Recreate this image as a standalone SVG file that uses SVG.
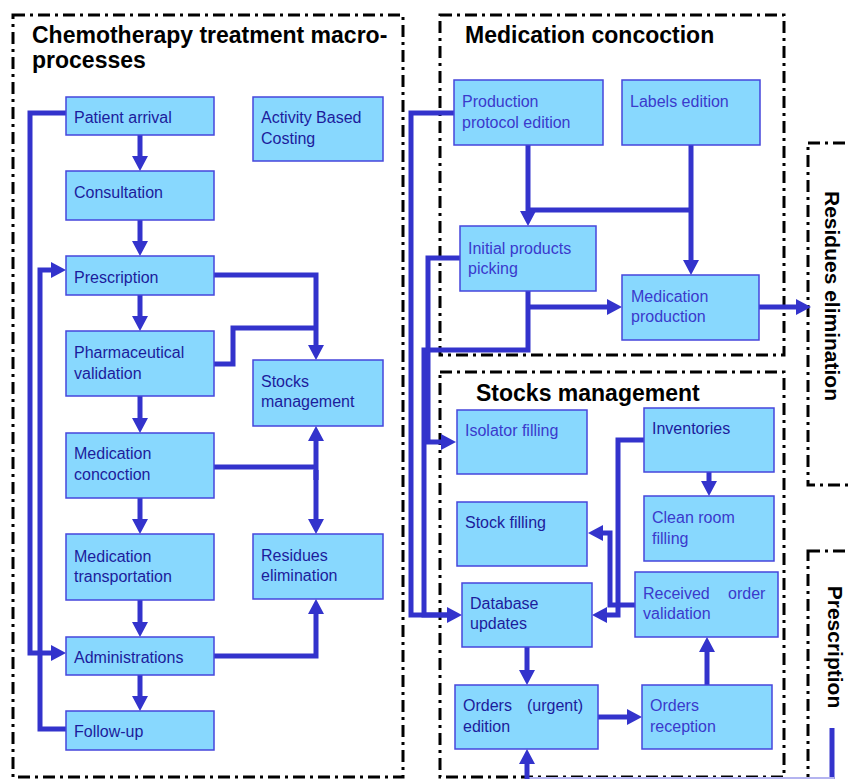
<svg xmlns="http://www.w3.org/2000/svg" width="849" height="779" viewBox="0 0 849 779">
<style>
.frame{fill:none;stroke:#000;stroke-width:3;stroke-dasharray:12 5 3 5}
.box{fill:#88d8fe;stroke:#4646dc;stroke-width:1.5}
.t{font-family:"Liberation Sans",Arial,sans-serif;font-size:16px;fill:#1c1c9c}
.tl{font-family:"Liberation Sans",Arial,sans-serif;font-size:16px;fill:#3a3acc}
.title{font-family:"Liberation Sans",Arial,sans-serif;font-size:23px;font-weight:bold;fill:#000}
.vt{font-family:"Liberation Sans",Arial,sans-serif;font-size:21px;font-weight:bold;fill:#000}
.c{fill:none;stroke:#3333cc;stroke-width:5;stroke-linejoin:miter}
.a{marker-end:url(#ah)}
</style>
<defs>
<marker id="ah" markerUnits="userSpaceOnUse" markerWidth="16" markerHeight="16" refX="3" refY="8" orient="auto">
<path d="M0,0 L15,8 L0,16 Z" fill="#3333cc"/>
</marker>
</defs>

<g id="frames">
<rect class="frame" x="13" y="15" width="390" height="762"/>
<rect class="frame" x="440" y="15" width="344" height="340"/>
<rect class="frame" x="440" y="372" width="344" height="405"/>
<rect class="frame" x="808" y="143" width="70" height="342"/>
<rect class="frame" x="808" y="551" width="70" height="260"/>
<text class="title" x="32" y="43">Chemotherapy treatment macro-</text>
<text class="title" x="32" y="68">processes</text>
<text class="title" x="465" y="43">Medication concoction</text>
<text class="title" x="476" y="401">Stocks management</text>
<text class="vt" transform="translate(825,296) rotate(90)" text-anchor="middle">Residues elimination</text>
<text class="vt" transform="translate(828,647) rotate(90)" text-anchor="middle">Prescription</text>
</g>

<g id="connectors">
<path class="c a" d="M140,135 V159"/>
<path class="c a" d="M140,220 V244"/>
<path class="c a" d="M140,295 V319"/>
<path class="c a" d="M140,396 V421"/>
<path class="c a" d="M140,498 V522"/>
<path class="c a" d="M140,600 V625"/>
<path class="c a" d="M140,675 V699"/>
<path class="c a" d="M66,113 H30 V653 H54"/>
<path class="c a" d="M66,729 H40 V270 H54"/>
<path class="c a" d="M214,275 H316 V348"/>
<path class="c" d="M214,364 H233 V328 H316"/>
<path class="c" d="M214,467 H316"/>
<path class="c a" d="M316,480 V438"/>
<path class="c a" d="M316,470 V522"/>
<path class="c a" d="M214,656 H316 V611"/>
<path class="c a" d="M454,113 H411 V615 H450"/>
<path class="c a" d="M460,258 H428 V442 H444"/>
<path class="c" d="M528,291 V350 H424 V615 H450"/>
<path class="c a" d="M528,307 H610"/>
<path class="c a" d="M528,145 V214"/>
<path class="c a" d="M691,145 V263"/>
<path class="c" d="M528,210 H691"/>
<path class="c a" d="M759,307 H799"/>
<path class="c a" d="M709,472 V484"/>
<path class="c a" d="M644,440 H618 V615 H604"/>
<path class="c a" d="M635,605 H610 V533 H600"/>
<path class="c a" d="M527,647 V673"/>
<path class="c a" d="M598,717 H630"/>
<path class="c a" d="M707,685 V649"/>
<path class="c" d="M832,728 V779"/>
<path d="M527,778 H834" fill="none" stroke="#b4b4f0" stroke-width="2"/>
<path class="c a" d="M527,779 V761"/>
</g>

<g id="patient-arrival"><rect class="box" x="66" y="97" width="148" height="38"/><text class="t" x="74" y="123">Patient arrival</text></g>
<g id="consultation"><rect class="box" x="66" y="171" width="148" height="49"/><text class="t" x="74" y="198">Consultation</text></g>
<g id="prescription"><rect class="box" x="66" y="256" width="148" height="39"/><text class="t" x="74" y="283">Prescription</text></g>
<g id="pharmaceutical-validation"><rect class="box" x="66" y="331" width="148" height="65"/><text class="t" x="74" y="358">Pharmaceutical</text><text class="t" x="74" y="379">validation</text></g>
<g id="medication-concoction"><rect class="box" x="66" y="433" width="148" height="65"/><text class="t" x="74" y="459">Medication</text><text class="t" x="74" y="480">concoction</text></g>
<g id="medication-transportation"><rect class="box" x="66" y="534" width="148" height="66"/><text class="t" x="74" y="562">Medication</text><text class="t" x="74" y="582">transportation</text></g>
<g id="administrations"><rect class="box" x="66" y="637" width="148" height="38"/><text class="t" x="74" y="663">Administrations</text></g>
<g id="follow-up"><rect class="box" x="66" y="711" width="148" height="39"/><text class="t" x="74" y="737">Follow-up</text></g>
<g id="activity-based-costing"><rect class="box" x="253" y="97" width="130" height="64"/><text class="t" x="261" y="123">Activity Based</text><text class="t" x="261" y="144">Costing</text></g>
<g id="stocks-management"><rect class="box" x="253" y="360" width="130" height="66"/><text class="t" x="261" y="387">Stocks</text><text class="t" x="261" y="407">management</text></g>
<g id="residues-elimination"><rect class="box" x="253" y="534" width="130" height="65"/><text class="t" x="261" y="561">Residues</text><text class="t" x="261" y="581">elimination</text></g>

<g id="production-protocol-edition"><rect class="box" x="454" y="80" width="149" height="65"/><text class="tl" x="462" y="107">Production</text><text class="tl" x="462" y="128">protocol edition</text></g>
<g id="labels-edition"><rect class="box" x="622" y="80" width="138" height="65"/><text class="tl" x="630" y="107">Labels edition</text></g>
<g id="initial-products-picking"><rect class="box" x="460" y="226" width="136" height="65"/><text class="tl" x="468" y="254">Initial products</text><text class="tl" x="468" y="274">picking</text></g>
<g id="medication-production"><rect class="box" x="622" y="275" width="137" height="65"/><text class="tl" x="631" y="302">Medication</text><text class="tl" x="631" y="322">production</text></g>

<g id="isolator-filling"><rect class="box" x="457" y="410" width="130" height="64"/><text class="tl" x="465" y="436">Isolator filling</text></g>
<g id="inventories"><rect class="box" x="644" y="408" width="130" height="64"/><text class="t" x="652" y="434">Inventories</text></g>
<g id="stock-filling"><rect class="box" x="457" y="502" width="130" height="64"/><text class="t" x="465" y="528">Stock filling</text></g>
<g id="clean-room-filling"><rect class="box" x="644" y="496" width="130" height="65"/><text class="tl" x="652" y="523">Clean room</text><text class="tl" x="652" y="544">filling</text></g>
<g id="database-updates"><rect class="box" x="462" y="583" width="130" height="64"/><text class="t" x="470" y="609">Database</text><text class="t" x="470" y="629">updates</text></g>
<g id="received-order-validation"><rect class="box" x="635" y="572" width="143" height="65"/><text class="tl" x="643" y="599">Received</text><text class="tl" x="728" y="599">order</text><text class="tl" x="643" y="619">validation</text></g>
<g id="orders-urgent-edition"><rect class="box" x="455" y="685" width="143" height="64"/><text class="t" x="463" y="711">Orders</text><text class="t" x="527" y="711">(urgent)</text><text class="t" x="463" y="732">edition</text></g>
<g id="orders-reception"><rect class="box" x="642" y="685" width="130" height="64"/><text class="tl" x="650" y="711">Orders</text><text class="tl" x="650" y="732">reception</text></g>
</svg>
